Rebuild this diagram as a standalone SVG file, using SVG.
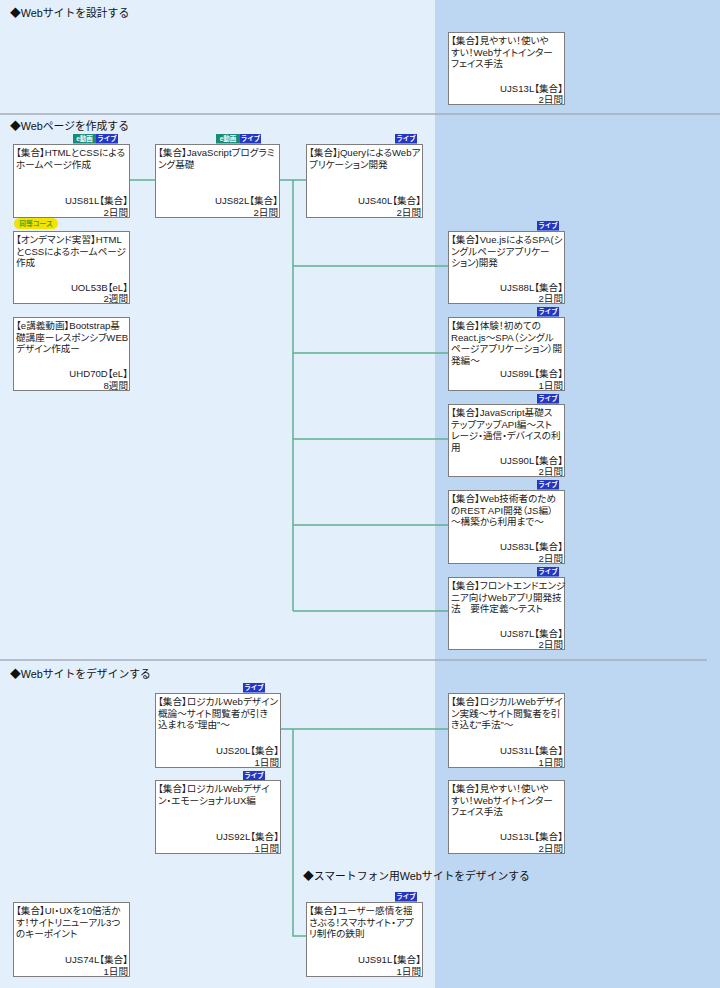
<svg xmlns="http://www.w3.org/2000/svg" width="720" height="988" viewBox="0 0 720 988">
<style>
.bgL{fill:#e4effc}
.bgR{fill:#bdd7f2}
.div{stroke:#a3adba;stroke-width:1.5;fill:none}
.sec{font-family:"Liberation Sans","Noto Sans CJK JP",sans-serif;font-size:10.8px;fill:#111}
.box{fill:#fff;stroke:#7d7d7d;stroke-width:1}
.t{font-family:"Liberation Sans","Noto Sans CJK JP",sans-serif;font-size:9.6px;fill:#222;font-feature-settings:"palt"}
.r{text-anchor:end}
.bl{fill:#2437c2}
.bt{fill:#178a78}
.bx{font-family:"Liberation Sans","Noto Sans CJK JP",sans-serif;font-size:6.5px;font-weight:bold;fill:#fff;text-anchor:middle}
.eq{fill:#f4e200}
.eqt{font-family:"Liberation Sans","Noto Sans CJK JP",sans-serif;font-size:6.8px;font-weight:bold;fill:#55a31c;text-anchor:middle}
.con{stroke:#5fb08e;stroke-width:1.5;fill:none}
</style>
<rect class="bgL" x="0" y="0" width="435" height="988"/>
<rect class="bgR" x="435" y="0" width="285" height="988"/>
<path class="div" d="M0,114 H720 M0,660 H707"/>
<text class="sec" x="10" y="17">◆Webサイトを設計する</text>
<text class="sec" x="10" y="130">◆Webページを作成する</text>
<text class="sec" x="10" y="678">◆Webサイトをデザインする</text>
<text class="sec" x="303" y="880">◆スマートフォン用Webサイトをデザインする</text>
<g id="connectors">
<path class="con" d="M129,180 H155 M279,180 H306 M293,180 V611 M293,266 H448 M293,353 H448 M293,439 H448 M293,525 H448 M293,611 H448"/>
<path class="con" d="M280,729 H448 M293,729 V936 H306"/>
</g>
<g id="n-ujs13l-a">
<rect class="box" x="448.5" y="32.5" width="116" height="72"/>
<text class="t" x="451" y="44">【集合】見やすい！使いや</text>
<text class="t" x="451" y="55.5">すい！Webサイトインター</text>
<text class="t" x="451" y="67">フェイス手法</text>
<text class="t r" x="563" y="91.5">UJS13L【集合】</text>
<text class="t r" x="563" y="103">2日間</text>
</g>
<g id="n-ujs81l">
<rect class="bt" x="73" y="134" width="23" height="9.5"/><text class="bx" x="84.5" y="141.3">e動画</text>
<rect class="bl" x="96" y="134" width="22" height="9.5"/><text class="bx" x="107" y="141.3">ライブ</text>
<rect class="box" x="13.5" y="144.5" width="116" height="73"/>
<text class="t" x="16" y="156">【集合】HTMLとCSSによる</text>
<text class="t" x="16" y="167.5">ホームページ作成</text>
<text class="t r" x="128" y="204">UJS81L【集合】</text>
<text class="t r" x="128" y="215.5">2日間</text>
</g>
<g id="n-ujs82l">
<rect class="bt" x="216" y="134" width="24" height="9.5"/><text class="bx" x="228" y="141.3">e動画</text>
<rect class="bl" x="240" y="134" width="21" height="9.5"/><text class="bx" x="250.5" y="141.3">ライブ</text>
<rect class="box" x="155.5" y="144.5" width="124" height="73"/>
<text class="t" x="158" y="156">【集合】JavaScriptプログラミ</text>
<text class="t" x="158" y="167.5">ング基礎</text>
<text class="t r" x="278" y="204">UJS82L【集合】</text>
<text class="t r" x="278" y="215.5">2日間</text>
</g>
<g id="n-ujs40l">
<rect class="bl" x="395" y="134" width="22" height="9.5"/><text class="bx" x="406" y="141.3">ライブ</text>
<rect class="box" x="306.5" y="144.5" width="116" height="73"/>
<text class="t" x="309" y="156">【集合】jQueryによるWebア</text>
<text class="t" x="309" y="167.5">プリケーション開発</text>
<text class="t r" x="421" y="204">UJS40L【集合】</text>
<text class="t r" x="421" y="215.5">2日間</text>
</g>
<g id="n-uol53b">
<rect class="eq" x="14" y="218" width="44" height="11" rx="5.5"/><text class="eqt" x="36" y="226">同等コース</text>
<rect class="box" x="13.5" y="231.5" width="116" height="72"/>
<text class="t" x="16" y="243">【オンデマンド実習】HTML</text>
<text class="t" x="16" y="254.5">とCSSによるホームページ</text>
<text class="t" x="16" y="266">作成</text>
<text class="t r" x="128" y="290.5">UOL53B【eL】</text>
<text class="t r" x="128" y="302">2週間</text>
</g>
<g id="n-uhd70d">
<rect class="box" x="13.5" y="317.5" width="116" height="73"/>
<text class="t" x="16" y="329">【e講義動画】Bootstrap基</text>
<text class="t" x="16" y="340.5">礎講座ーレスポンシブWEB</text>
<text class="t" x="16" y="352">デザイン作成ー</text>
<text class="t r" x="128" y="377">UHD70D【eL】</text>
<text class="t r" x="128" y="388.5">8週間</text>
</g>
<g id="n-ujs88l">
<rect class="bl" x="537" y="221" width="22" height="9.5"/><text class="bx" x="548" y="228.3">ライブ</text>
<rect class="box" x="448.5" y="231.5" width="116" height="72"/>
<text class="t" x="451" y="243">【集合】Vue.jsによるSPA(シ</text>
<text class="t" x="451" y="254.5">ングルページアプリケー</text>
<text class="t" x="451" y="266">ション)開発</text>
<text class="t r" x="563" y="290.5">UJS88L【集合】</text>
<text class="t r" x="563" y="302">2日間</text>
</g>
<g id="n-ujs89l">
<rect class="bl" x="537" y="307" width="22" height="9.5"/><text class="bx" x="548" y="314.3">ライブ</text>
<rect class="box" x="448.5" y="317.5" width="116" height="73"/>
<text class="t" x="451" y="329">【集合】体験！初めての</text>
<text class="t" x="451" y="340.5">React.js～SPA（シングル</text>
<text class="t" x="451" y="352">ページアプリケーション）開</text>
<text class="t" x="451" y="363.5">発編～</text>
<text class="t r" x="563" y="377">UJS89L【集合】</text>
<text class="t r" x="563" y="388.5">1日間</text>
</g>
<g id="n-ujs90l">
<rect class="bl" x="537" y="394" width="22" height="9.5"/><text class="bx" x="548" y="401.3">ライブ</text>
<rect class="box" x="448.5" y="404.5" width="116" height="72"/>
<text class="t" x="451" y="416">【集合】JavaScript基礎ス</text>
<text class="t" x="451" y="427.5">テップアップAPI編～スト</text>
<text class="t" x="451" y="439">レージ・通信・デバイスの利</text>
<text class="t" x="451" y="450.5">用</text>
<text class="t r" x="563" y="463.5">UJS90L【集合】</text>
<text class="t r" x="563" y="475">2日間</text>
</g>
<g id="n-ujs83l">
<rect class="bl" x="537" y="480" width="22" height="9.5"/><text class="bx" x="548" y="487.3">ライブ</text>
<rect class="box" x="448.5" y="490.5" width="116" height="73"/>
<text class="t" x="451" y="502">【集合】Web技術者のため</text>
<text class="t" x="451" y="513.5">のREST API開発（JS編）</text>
<text class="t" x="451" y="525">～構築から利用まで～</text>
<text class="t r" x="563" y="550">UJS83L【集合】</text>
<text class="t r" x="563" y="561.5">2日間</text>
</g>
<g id="n-ujs87l">
<rect class="bl" x="537" y="567" width="22" height="9.5"/><text class="bx" x="548" y="574.3">ライブ</text>
<rect class="box" x="448.5" y="577.5" width="116" height="72"/>
<text class="t" x="451" y="589">【集合】フロントエンドエンジ</text>
<text class="t" x="451" y="600.5">ニア向けWebアプリ開発技</text>
<text class="t" x="451" y="612">法　要件定義～テスト</text>
<text class="t r" x="563" y="636.5">UJS87L【集合】</text>
<text class="t r" x="563" y="648">2日間</text>
</g>
<g id="n-ujs20l">
<rect class="bl" x="243" y="683" width="22" height="9.5"/><text class="bx" x="254" y="690.3">ライブ</text>
<rect class="box" x="155.5" y="693.5" width="125" height="74"/>
<text class="t" x="158" y="705">【集合】ロジカルWebデザイン</text>
<text class="t" x="158" y="716.5">概論～サイト閲覧者が引き</text>
<text class="t" x="158" y="728">込まれる”理由”～</text>
<text class="t r" x="279" y="754">UJS20L【集合】</text>
<text class="t r" x="279" y="765.5">1日間</text>
</g>
<g id="n-ujs92l">
<rect class="bl" x="243" y="771" width="22" height="9.5"/><text class="bx" x="254" y="778.3">ライブ</text>
<rect class="box" x="155.5" y="780.5" width="125" height="73"/>
<text class="t" x="158" y="792">【集合】ロジカルWebデザイ</text>
<text class="t" x="158" y="803.5">ン・エモーショナルUX編</text>
<text class="t r" x="279" y="840">UJS92L【集合】</text>
<text class="t r" x="279" y="851.5">1日間</text>
</g>
<g id="n-ujs31l">
<rect class="box" x="448.5" y="693.5" width="116" height="74"/>
<text class="t" x="451" y="705">【集合】ロジカルWebデザイ</text>
<text class="t" x="451" y="716.5">ン実践～サイト閲覧者を引</text>
<text class="t" x="451" y="728">き込む”手法”～</text>
<text class="t r" x="563" y="754">UJS31L【集合】</text>
<text class="t r" x="563" y="765.5">1日間</text>
</g>
<g id="n-ujs13l-b">
<rect class="box" x="448.5" y="780.5" width="116" height="73"/>
<text class="t" x="451" y="792">【集合】見やすい！使いや</text>
<text class="t" x="451" y="803.5">すい！Webサイトインター</text>
<text class="t" x="451" y="815">フェイス手法</text>
<text class="t r" x="563" y="840">UJS13L【集合】</text>
<text class="t r" x="563" y="851.5">2日間</text>
</g>
<g id="n-ujs74l">
<rect class="box" x="13.5" y="902.5" width="116" height="74"/>
<text class="t" x="16" y="914">【集合】UI・UXを10倍活か</text>
<text class="t" x="16" y="925.5">す！サイトリニューアル3つ</text>
<text class="t" x="16" y="937">のキーポイント</text>
<text class="t r" x="128" y="963">UJS74L【集合】</text>
<text class="t r" x="128" y="974.5">1日間</text>
</g>
<g id="n-ujs91l">
<rect class="bl" x="395" y="892" width="22" height="9.5"/><text class="bx" x="406" y="899.3">ライブ</text>
<rect class="box" x="306.5" y="902.5" width="116" height="74"/>
<text class="t" x="309" y="914">【集合】ユーザー感情を揺</text>
<text class="t" x="309" y="925.5">さぶる！スマホサイト・アプ</text>
<text class="t" x="309" y="937">リ制作の鉄則</text>
<text class="t r" x="421" y="963">UJS91L【集合】</text>
<text class="t r" x="421" y="974.5">1日間</text>
</g>
</svg>
